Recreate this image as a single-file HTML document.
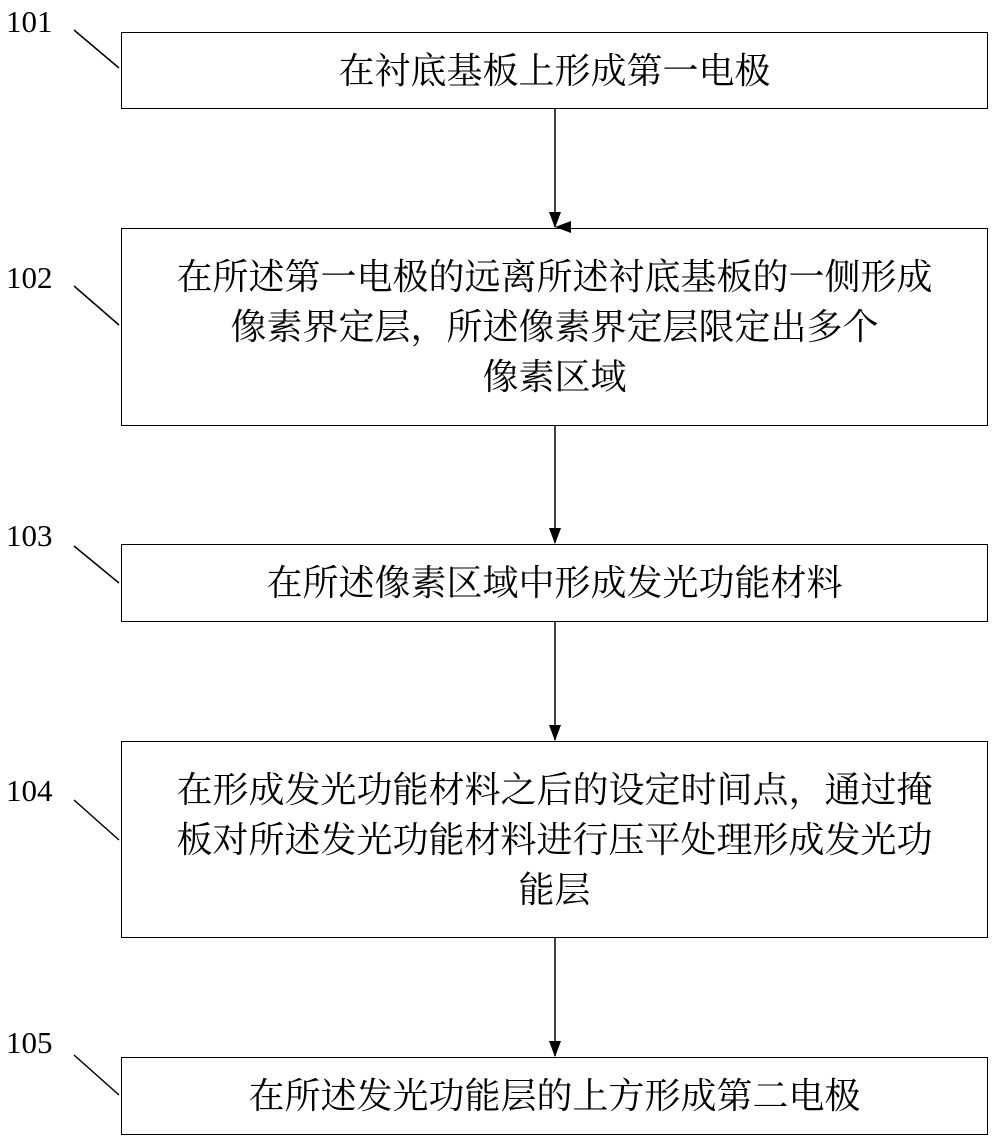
<!DOCTYPE html>
<html><head><meta charset="utf-8">
<style>
body{margin:0;width:998px;height:1143px;background:#fff;position:relative;overflow:hidden;font-family:"Liberation Serif","Noto Serif CJK SC",serif;}
.box{position:absolute;left:121px;width:865px;border:1.5px solid #000;display:flex;align-items:center;justify-content:center;text-align:center;font-size:36px;line-height:50px;color:#000;}
.lbl{position:absolute;font-size:31px;color:#000;}
svg{position:absolute;left:0;top:0;}
</style></head><body>
<svg width="998" height="1143">
<defs><marker id="a" markerWidth="12" markerHeight="16" refX="6" refY="16" orient="auto" markerUnits="userSpaceOnUse"><path d="M0,0 L12,0 L6,16 z" fill="#000"/></marker></defs>
<g stroke="#000" stroke-width="1.5" fill="none">
<line x1="555" y1="109" x2="555" y2="227" marker-end="url(#a)" transform="rotate(0)"/>
<line x1="555" y1="426" x2="555" y2="543"/>
<line x1="555" y1="622" x2="555" y2="740"/>
<line x1="555" y1="938" x2="555" y2="1056"/>
<line x1="74" y1="30" x2="119" y2="68"/>
<line x1="74" y1="286" x2="119" y2="325"/>
<line x1="74" y1="546" x2="119" y2="583"/>
<line x1="74" y1="800" x2="119" y2="840"/>
<line x1="74" y1="1055" x2="119" y2="1095"/>
</g>
<g fill="#000">
<path d="M549,212 L561,212 L555,228 z"/>
<path d="M549,528 L561,528 L555,544 z"/>
<path d="M549,725 L561,725 L555,741 z"/>
<path d="M549,1041 L561,1041 L555,1057 z"/>
</g>
</svg>
<div class="lbl" style="left:6px;top:4px">101</div>
<div class="lbl" style="left:6px;top:260px">102</div>
<div class="lbl" style="left:6px;top:518px">103</div>
<div class="lbl" style="left:6px;top:773px">104</div>
<div class="lbl" style="left:6px;top:1025px">105</div>
<div class="box" style="top:32px;height:75px">在衬底基板上形成第一电极</div>
<div class="box" style="top:228px;height:196px">在所述第一电极的远离所述衬底基板的一侧形成<br>像素界定层，所述像素界定层限定出多个<br>像素区域</div>
<div class="box" style="top:544px;height:76px">在所述像素区域中形成发光功能材料</div>
<div class="box" style="top:741px;height:195px">在形成发光功能材料之后的设定时间点，通过掩<br>板对所述发光功能材料进行压平处理形成发光功<br>能层</div>
<div class="box" style="top:1057px;height:76px">在所述发光功能层的上方形成第二电极</div>
</body></html>
